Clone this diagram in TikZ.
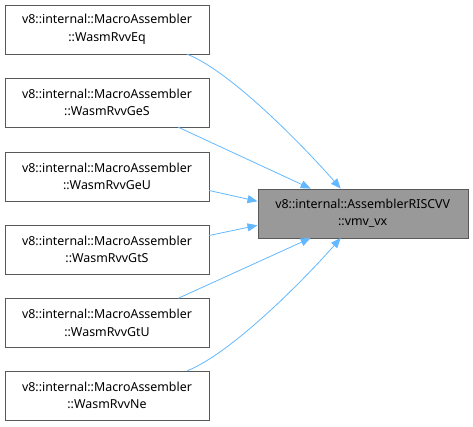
\documentclass[tikz,border=0pt]{standalone}
\usepackage{fontspec}
\setmainfont{Noto Sans}
\usetikzlibrary{arrows.meta}
\definecolor{edgeblue}{HTML}{63B8FF}

\begin{document}
\begin{tikzpicture}[
  x=1pt,y=-1pt,
  caller/.style={draw=gray!70!black,fill=white,minimum width=204pt,minimum height=49pt,
    align=center,font=\fontsize{12.4}{17.5}\selectfont,inner sep=0pt},
  callee/.style={caller,fill=black!40,minimum width=210pt},
  call/.style={-{Triangle[length=10pt,width=8pt]},draw=edgeblue,line width=0.8pt}
]
  \useasboundingbox (0,0) rectangle (473,426);
  \node[callee] (vmv) at (362.7,213.3) {v8::internal::AssemblerRISCVV\\::vmv\_vx};
  \node[caller] (eq) at (107,29.5) {v8::internal::MacroAssembler\\::WasmRvvEq};
  \node[caller] (ges) at (107,102.5) {v8::internal::MacroAssembler\\::WasmRvvGeS};
  \node[caller] (geu) at (107,176.5) {v8::internal::MacroAssembler\\::WasmRvvGeU};
  \node[caller] (gts) at (107,249.5) {v8::internal::MacroAssembler\\::WasmRvvGtS};
  \node[caller] (gtu) at (107,323) {v8::internal::MacroAssembler\\::WasmRvvGtU};
  \node[caller] (ne) at (107,395.5) {v8::internal::MacroAssembler\\::WasmRvvNe};
  \draw[call] (eq.south east) ++(-22,0) .. controls +(45,18) and +(-35,-40) .. ([xshift=-22pt]vmv.north);
  \draw[call] (ges.south east) ++(-31,0) -- ([xshift=-52pt]vmv.north);
  \draw[call] (geu.east) ++(0,14) -- ([yshift=12pt]vmv.west);
  \draw[call] (gts.east) ++(0,-14) -- ([yshift=-12pt]vmv.west);
  \draw[call] (gtu.north east) ++(-31,0) -- ([xshift=-52pt]vmv.south);
  \draw[call] (ne.north east) ++(-22,0) .. controls +(45,-18) and +(-35,40) .. ([xshift=-22pt]vmv.south);
\end{tikzpicture}
\end{document}
